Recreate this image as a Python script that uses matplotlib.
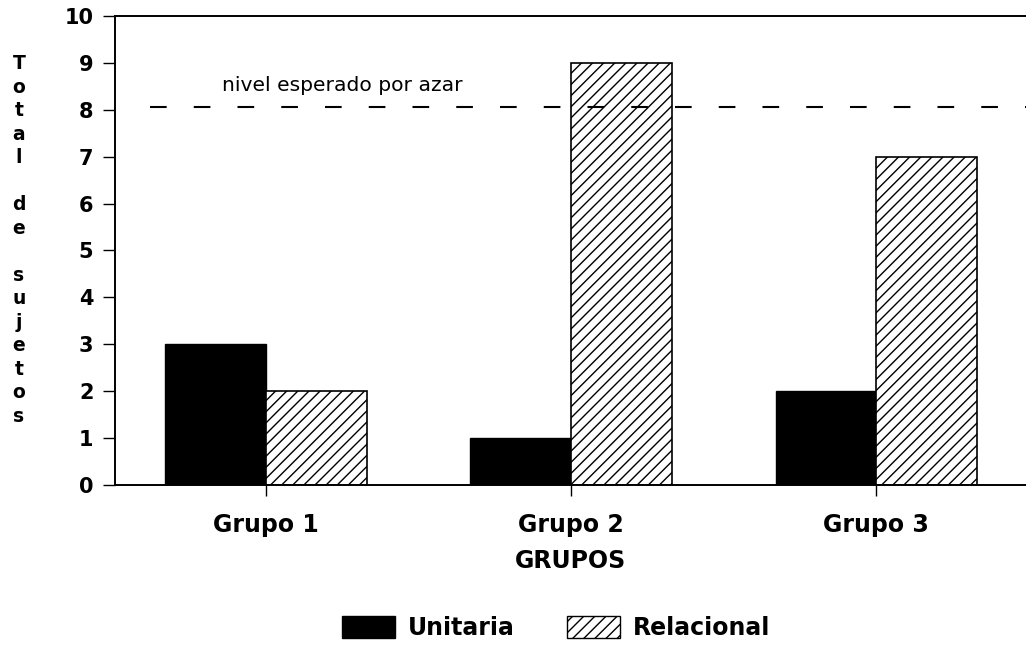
import numpy as np
import matplotlib
matplotlib.use("Agg")
import matplotlib.pyplot as plt
from matplotlib.patches import Patch

# data
grupos = ["Grupo 1", "Grupo 2", "Grupo 3"]
unitaria = [3, 1, 2]
relacional = [2, 9, 7]
nivel_azar = 8.07
y_label = "Total de sujetos"

plt.rcParams["font.family"] = ["DejaVu Sans"]
plt.rcParams["hatch.linewidth"] = 1.0

fig = plt.figure(figsize=(10.26, 6.45), dpi=100)
ax = fig.add_axes([115 / 1026, 1 - 485 / 645, 1 - 115 / 1026, (485 - 16) / 645])

x = np.arange(len(grupos))
width = 0.33
ax.bar(x - width / 2, unitaria, width, color="black", edgecolor="black", linewidth=1)
ax.bar(x + width / 2, relacional, width, color="white", edgecolor="black",
       hatch="///", linewidth=1.2)

ax.axhline(nivel_azar, xmin=(150 - 115) / (1026 - 115), xmax=1,
           color="black", linestyle=(0, (8, 13)), linewidth=1.5)
ax.text(-0.145, nivel_azar + 0.34, "nivel esperado por azar", fontsize=14.6,
        va="baseline", ha="left")

ax.set_xlim(-0.494, 2.49)
ax.set_ylim(0, 10)
ax.set_yticks(range(0, 11))
ax.set_xticks(x)
ax.set_xticklabels(grupos, fontsize=17, fontweight="bold")
ax.tick_params(axis="y", direction="out", length=8.5, width=1, labelsize=15, pad=7)
ax.tick_params(axis="x", direction="out", length=8, width=1, pad=12)
for lab in ax.get_yticklabels():
    lab.set_fontweight("bold")

ax.spines["right"].set_visible(False)
for s in ["left", "top", "bottom"]:
    ax.spines[s].set_linewidth(1.4)

ax.set_xlabel("GRUPOS", fontsize=17, fontweight="bold", labelpad=9)

# stacked vertical label, two blank lines between words
letras = "\n\n".join("\n".join(w) for w in y_label.split(" "))
fig.text(19 / 1026, 1 - 240 / 645, letras, fontsize=13.5,
         fontweight="bold", ha="center", va="center", linespacing=1.3)

handles = [Patch(facecolor="black", edgecolor="black", label="Unitaria"),
           Patch(facecolor="white", edgecolor="black", hatch="///", label="Relacional")]
fig.legend(handles=handles, loc="center", bbox_to_anchor=(556 / 1026, 1 - 628 / 645),
           ncol=2, frameon=False, prop={"weight": "bold", "size": 17},
           handlelength=2.25, handleheight=1.06, columnspacing=2.2, handletextpad=0.55,
           borderpad=0, borderaxespad=0)

fig.savefig("out.png", dpi=100)
